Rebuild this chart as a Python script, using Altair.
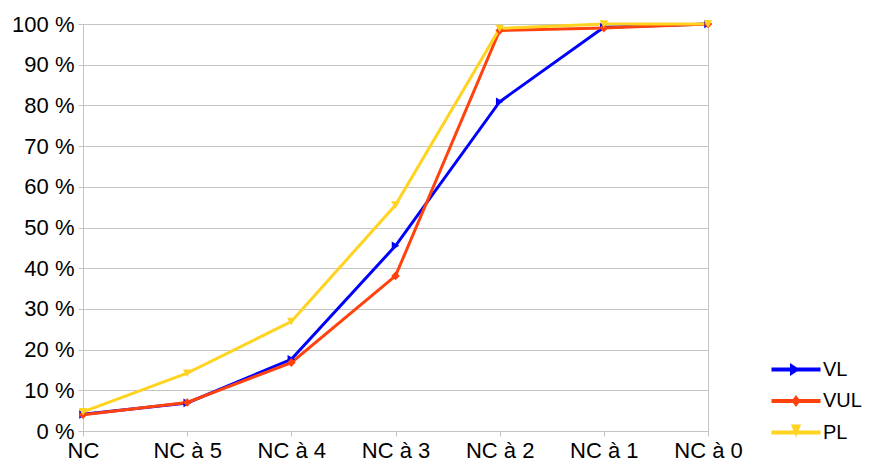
import altair as alt
import pandas as pd

categories = ["NC", "NC à 5", "NC à 4", "NC à 3", "NC à 2", "NC à 1", "NC à 0"]
series_names = ["VL", "VUL", "PL"]
vl_values = [4.1, 6.9, 17.6, 45.5, 80.9, 99.2, 100]
vul_values = [4.0, 7.0, 16.8, 38.1, 98.4, 99.0, 100]
pl_values = [4.7, 14.2, 26.9, 55.5, 98.9, 100, 100]
y_ticks = [0, 10, 20, 30, 40, 50, 60, 70, 80, 90, 100]

series_colors = ["#0000ff", "#ff420e", "#ffd320"]
series_shapes = ["triangle-right", "diamond", "triangle-down"]

# legend symbols: a line segment with the series marker on it (unit box -1..1, size 400 -> r=10)
seg = "M-2.45,-0.2L2.45,-0.2L2.45,0.2L-2.45,0.2Z"
legend_paths = [
    seg + " M-0.6,-0.65L0.4,0L-0.6,0.65Z",
    seg + " M-0.45,0L0,-0.6L0.45,0L0,0.6Z",
    seg + " M-0.5,-0.8L0.5,-0.8L0,0.5Z",
]

rows = []
for name, vals in zip(series_names, [vl_values, vul_values, pl_values]):
    for i, (c, v) in enumerate(zip(categories, vals)):
        rows.append({"cat": c, "series": name, "value": v, "idx": i})
df = pd.DataFrame(rows)

FONT = "Liberation Sans"
FS = 22
GRID = "#c4c4c4"

x_enc = alt.X(
    "cat:N",
    sort=categories,
    scale=alt.Scale(type="point", padding=0),
    axis=alt.Axis(title=None, labelAngle=0, tickSize=5, domain=False, grid=False,
                  labelPadding=4, tickColor=GRID),
)
y_enc = alt.Y(
    "value:Q",
    scale=alt.Scale(domain=[0, 100]),
    axis=alt.Axis(title=None, values=y_ticks, labelExpr="datum.value + ' %'",
                  grid=True, gridColor=GRID, domain=True, domainColor=GRID,
                  tickColor=GRID, tickSize=5, labelPadding=4),
)
color_scale = alt.Scale(domain=series_names, range=series_colors)

legend = alt.Legend(title=None, orient="none", legendX=703, legendY=335.5,
                    symbolSize=400, symbolStrokeWidth=0, labelOffset=17,
                    rowPadding=11.5, padding=0, labelFontSize=20)

base = alt.Chart(df)
lines = base.mark_line(strokeWidth=3).encode(
    x=x_enc, y=y_enc,
    color=alt.Color("series:N", scale=color_scale, legend=None),
    order=alt.Order("idx:Q"),
)
points = base.mark_point(filled=True, size=75, opacity=1).encode(
    x=x_enc, y=y_enc,
    color=alt.Color("series:N", scale=color_scale, legend=None),
    shape=alt.Shape("series:N", scale=alt.Scale(domain=series_names, range=series_shapes),
                    legend=None),
)
legend_layer = base.transform_filter("false").mark_point(filled=True, opacity=1, size=400).encode(
    fill=alt.Fill("series:N", scale=color_scale, legend=legend),
    shape=alt.Shape("series:N", scale=alt.Scale(domain=series_names, range=legend_paths),
                    legend=legend),
)

chart = (
    alt.layer(lines, points, legend_layer)
    .resolve_scale(shape="independent")
    .resolve_legend(shape="independent", fill="independent")
    .properties(width=625, height=407, autosize="none",
                padding={"left": 75, "top": 16, "right": 154, "bottom": 30})
    .configure(font=FONT)
    .configure_view(stroke=GRID)
    .configure_axis(labelFont=FONT, labelFontSize=FS, labelColor="#000000")
    .configure_legend(labelFont=FONT, labelColor="#000000", symbolSize=400)
)

chart.save("out.html", embed_options={"renderer": "svg", "actions": False})
